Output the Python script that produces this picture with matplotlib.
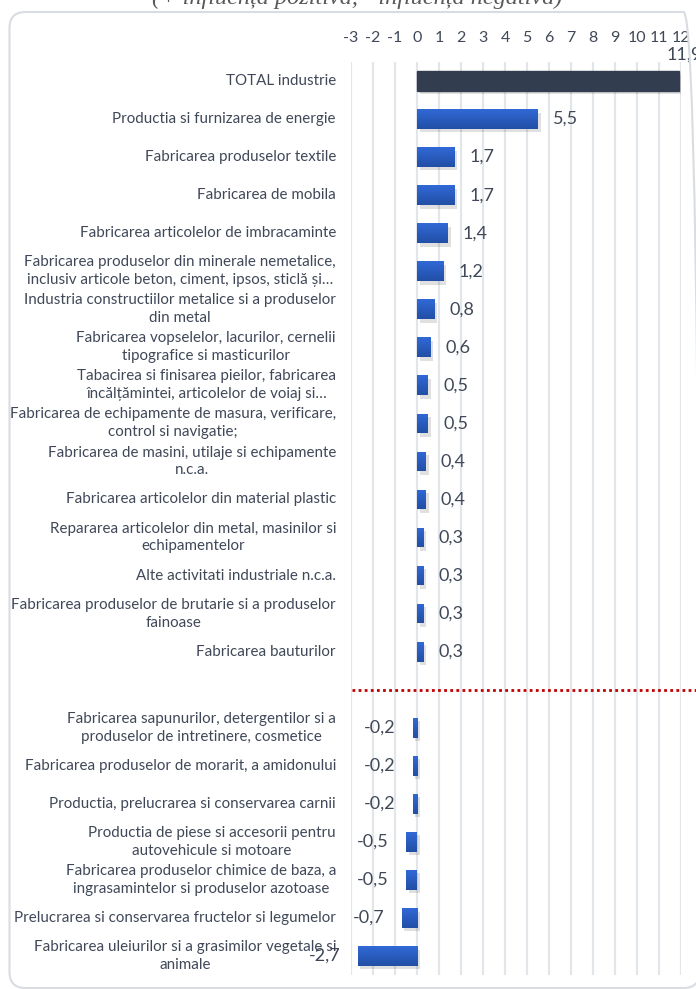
import numpy as np
import matplotlib.pyplot as plt
import matplotlib.transforms as mtransforms
from matplotlib import patheffects
from matplotlib.colors import LinearSegmentedColormap
from matplotlib.patches import FancyBboxPatch

plt.rcParams['font.family'] = ['Lato', 'DejaVu Sans']

# Data
positive_labels = [
    'TOTAL industrie',
    'Productia si furnizarea de energie',
    'Fabricarea produselor textile',
    'Fabricarea de mobila',
    'Fabricarea articolelor de imbracaminte',
    'Fabricarea produselor din minerale nemetalice,\ninclusiv articole beton, ciment, ipsos, sticlă și…',
    'Industria constructiilor metalice si a produselor\ndin metal',
    'Fabricarea vopselelor, lacurilor, cernelii\ntipografice si masticurilor',
    'Tabacirea si finisarea pieilor, fabricarea\nîncălțămintei, articolelor de voiaj si…',
    'Fabricarea de echipamente de masura, verificare,\ncontrol si navigatie;',
    'Fabricarea de masini, utilaje si echipamente\nn.c.a.',
    'Fabricarea articolelor din material plastic',
    'Repararea articolelor din metal, masinilor si\nechipamentelor',
    'Alte activitati industriale n.c.a.',
    'Fabricarea produselor de brutarie si a produselor\nfainoase',
    'Fabricarea bauturilor',
]
positive_values = [11.9, 5.5, 1.7, 1.7, 1.4, 1.2, 0.8, 0.6, 0.5, 0.5, 0.4, 0.4, 0.3, 0.3, 0.3, 0.3]

negative_labels = [
    'Fabricarea sapunurilor, detergentilor si a\nproduselor de intretinere, cosmetice',
    'Fabricarea produselor de morarit, a amidonului',
    'Productia, prelucrarea si conservarea carnii',
    'Productia de piese si accesorii pentru\nautovehicule si motoare',
    'Fabricarea produselor chimice de baza, a\ningrasamintelor si produselor azotoase',
    'Prelucrarea si conservarea fructelor si legumelor',
    'Fabricarea uleiurilor si a grasimilor vegetale si\nanimale',
]
negative_values = [-0.2, -0.2, -0.2, -0.5, -0.5, -0.7, -2.7]

x_ticks = list(range(-3, 13))
title = '(+ influența pozitivă, - influența negativă)'

TEXT = '#404858'
BLUE_TOP = '#3169D6'
BLUE_BOTTOM = '#224FA6'
TOTAL_COLOR = '#333D50'

labels = positive_labels + negative_labels
values = positive_values + negative_values
# one empty slot between the two groups
positions = list(range(len(positive_values))) + \
    list(range(len(positive_values) + 1, len(positive_values) + 1 + len(negative_values)))
sep_pos = len(positive_values)

fig = plt.figure(figsize=(6.96, 9.89), dpi=100)
ax = fig.add_axes([351 / 696, 14 / 989, 330 / 696, 913 / 989])

# rounded chart border
border = FancyBboxPatch((0.095, 0.01), 6.9, 9.76,
                        boxstyle='round,pad=0,rounding_size=0.16',
                        transform=fig.dpi_scale_trans, facecolor='none',
                        edgecolor='#D9DCE1', linewidth=1.5, clip_on=False, zorder=0)
fig.patches.append(border)

shadow = [patheffects.SimplePatchShadow(offset=(2, -2.5), shadow_rgbFace='#000000', alpha=0.12),
          patheffects.Normal()]

bar_h = 0.52
bars = ax.barh(positions, values, height=bar_h, color=BLUE_BOTTOM, zorder=2)
blue_cmap = LinearSegmentedColormap.from_list('bar', [BLUE_TOP, BLUE_BOTTOM])
grad = np.linspace(0, 1, 64).reshape(-1, 1)
for i, bar in enumerate(bars):
    bar.set_path_effects(shadow)
    if i == 0:
        bar.set_color(TOTAL_COLOR)
        continue
    x0, y0 = bar.get_x(), bar.get_y()
    im = ax.imshow(grad, cmap=blue_cmap, aspect='auto', zorder=3,
                   extent=[x0, x0 + bar.get_width(), y0 + bar_h, y0], origin='upper')
    im.set_clip_path(bar)

# value labels
for i, (p, v) in enumerate(zip(positions, values)):
    txt = '{:.1f}'.format(v).replace('.', ',')
    if i == 0:
        ax.annotate(txt, (v, p), xytext=(-12, 26), textcoords='offset pixels',
                    ha='left', va='center', fontsize=13, color=TEXT, annotation_clip=False)
    elif v >= 0:
        ax.annotate(txt, (v, p), xytext=(15, 0), textcoords='offset pixels',
                    ha='left', va='center', fontsize=13, color=TEXT)
    else:
        ax.annotate(txt, (v, p), xytext=(-17, 0), textcoords='offset pixels',
                    ha='right', va='center', fontsize=13, color=TEXT)

# category labels
lab_trans = mtransforms.blended_transform_factory(ax.transAxes, ax.transData)
for p, lab in zip(positions, labels):
    ax.text(-15 / 330, p, lab, transform=lab_trans, ha='right', va='center',
            multialignment='center', fontsize=10.9, color=TEXT, linespacing=1.35)

# dotted separator between positive and negative influences
ax.plot([-2.95, 12.8], [sep_pos, sep_pos], color='#C00000', linestyle=(0, (1, 1.2)),
        linewidth=2, clip_on=False, zorder=4)

ax.set_xlim(-3, 12)
ax.set_ylim(len(positions) + 0.5, -0.5)
ax.xaxis.tick_top()
ax.set_xticks(x_ticks)
ax.set_xticklabels([str(t) for t in x_ticks])
ax.tick_params(axis='x', length=0, pad=12, labelsize=11.5, labelcolor=TEXT)
ax.set_yticks([])
ax.grid(axis='x', color='#E2E6EB', linewidth=1.6, zorder=0)
ax.set_axisbelow(True)
for s in ax.spines.values():
    s.set_visible(False)

fig.text(357 / 696, 1 - 4 / 989, title, ha='center', va='baseline',
         fontsize=17.5, style='italic', family='Liberation Serif', color='#595959')

fig.savefig('out.png', dpi=100)
